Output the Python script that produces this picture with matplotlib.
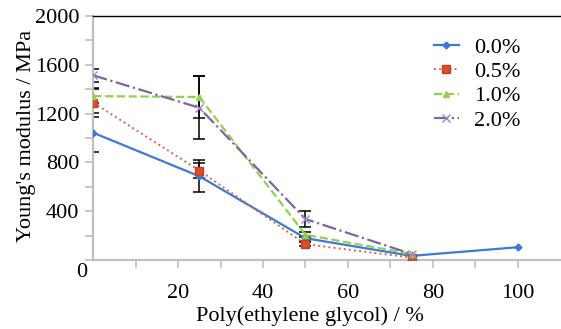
import matplotlib
matplotlib.use("Agg")
import matplotlib.pyplot as plt

peg = [0, 25, 50, 75, 100]
labels = ["0.0%", "0.5%", "1.0%", "2.0%"]
y00 = [1043, 686, 178, 33, 104]
y05 = [1290, 733, 129, 19]
y10 = [1344, 1336, 206, 49]
y20 = [1514, 1248, 335, 49]
e00 = [160, 130, 20, 0, 0]
e05 = [120, 63, 15, 0]
e10 = [60, 170, 20, 0]
e20 = [55, 260, 63, 0]

plt.rcParams['font.family'] = ['Liberation Serif', 'DejaVu Serif']
fig = plt.figure(figsize=(5.61, 3.29), dpi=100)
ax = fig.add_axes([0.1663, 0.21, 0.832, 0.741])

styles = [
    (y00, e00, '#3D7AD6', '-', 'D', 3.5, '#3D7AD6', 1.6),
    (y05, e05, '#E0604E', ':', 's', 6, '#D8502A', 1.4),
    (y10, e10, '#92D050', '--', '^', 5, '#92D050', 1.6),
    (y20, e20, '#8064A2', '-.', 'x', 6, '#9A86C8', 1.6),
]
handles = []
for (ys, es, c, ls, mk, ms, mc, lw), lab in zip(styles, labels):
    xs = [x for x, e in zip(peg, es) if e > 0]
    yv = [y for y, e in zip(ys, es) if e > 0]
    ev = [e for e in es if e > 0]
    ax.errorbar(xs, yv, yerr=ev, fmt='none', ecolor='black', elinewidth=1.1,
                capsize=4, capthick=1.1, zorder=2)
    h, = ax.plot(peg[:len(ys)], ys, linestyle=ls, color=c, lw=lw, marker=mk, markersize=ms,
                 markerfacecolor=mc, markeredgecolor='#C04020' if mk == 's' else mc,
                 markeredgewidth=1.0, zorder=3, label=lab)
    handles.append(h)

ax.set_xlim(0, 110)
ax.set_ylim(0, 2000)
ax.set_xticks([10, 20, 30, 40, 50, 60, 70, 80, 90, 100])
ax.set_xticklabels(['', '20', '', '40', '', '60', '', '80', '', '100'])
ax.set_yticks([0, 200, 400, 600, 800, 1000, 1200, 1400, 1600, 1800, 2000])
ax.set_yticklabels(['', '', '400', '', '800', '', '1200', '', '1600', '', '2000'])
ax.tick_params(axis='both', direction='out', length=6, width=1.2, color='#BFBFBF',
               labelsize=16, labelcolor='black')
ax.tick_params(axis='x', pad=11)
ax.tick_params(axis='y', pad=4)
ax.text(-2.7, -107, '0', fontsize=16, ha='center', va='center', clip_on=False)

for s in ['left', 'bottom']:
    ax.spines[s].set_color('#BFBFBF')
    ax.spines[s].set_linewidth(1.6)
ax.spines['right'].set_visible(False)
ax.spines['top'].set_color('black')
ax.spines['top'].set_linewidth(1.0)

ax.set_xlabel('Poly(ethylene glycol) / %', fontsize=16)
ax.set_ylabel("Young's modulus / MPa", fontsize=16)
ax.xaxis.set_label_coords(0.464, -0.19)
ax.yaxis.set_label_coords(-0.122, 0.51)

leg = ax.legend(handles=handles, loc='upper left', bbox_to_anchor=(0.71, 0.95),
                frameon=False, fontsize=16, handlelength=1.13, numpoints=1,
                labelspacing=0.17, handletextpad=0.68, borderaxespad=0)

fig.savefig('out.png', dpi=100)
